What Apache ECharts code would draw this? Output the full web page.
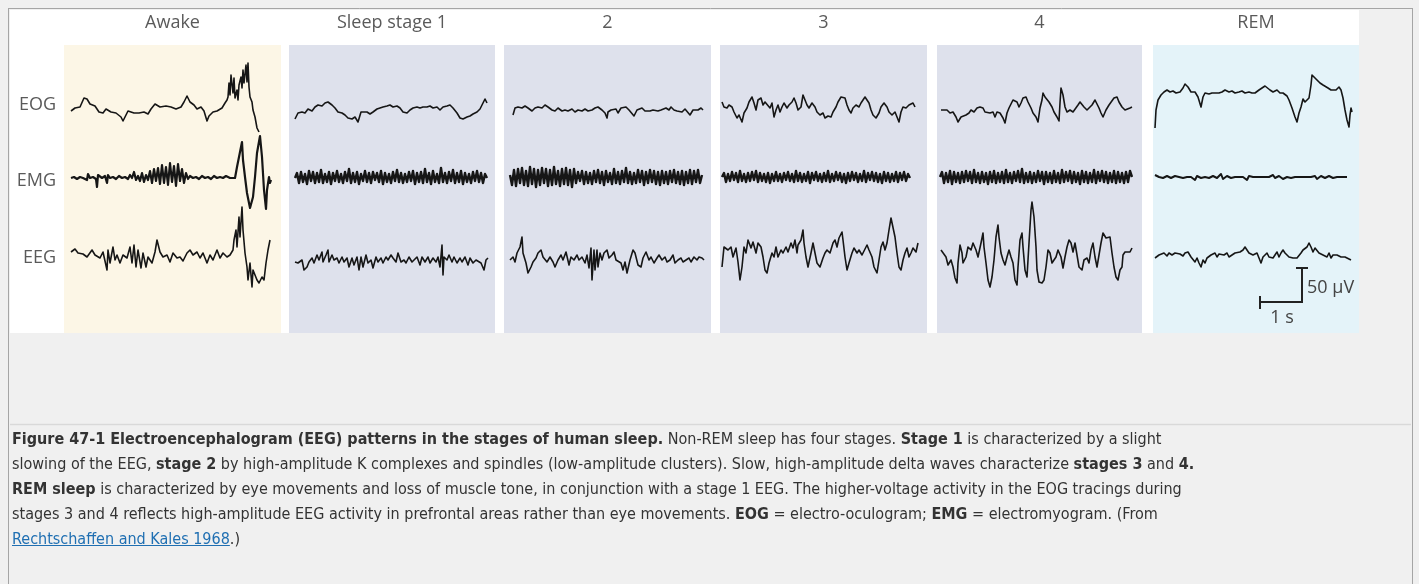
<!DOCTYPE html>
<html><head><meta charset="utf-8">
<script src="https://cdn.jsdelivr.net/npm/echarts@6/dist/echarts.min.js"></script>
<style>
html,body{margin:0;padding:0;background:#f0f0f0;width:1419px;height:584px;overflow:hidden;}
#chart{position:absolute;left:0;top:0;width:1419px;height:584px;}
#cap{position:absolute;left:12px;top:426px;font-family:"DejaVu Sans Condensed","DejaVu Sans",sans-serif;font-size:16px;line-height:25px;color:#333;white-space:nowrap;}
#cap a{color:#1f6fb2;text-decoration:underline;}
</style></head>
<body>
<div id="chart"></div>
<div id="cap">
<b>Figure 47-1 Electroencephalogram (EEG) patterns in the stages of human sleep.</b> Non-REM sleep has four stages. <b>Stage 1</b> is characterized by a slight<br>
slowing of the EEG, <b>stage 2</b> by high-amplitude K complexes and spindles (low-amplitude clusters). Slow, high-amplitude delta waves characterize <b>stages 3</b> and <b>4.</b><br>
<b>REM sleep</b> is characterized by eye movements and loss of muscle tone, in conjunction with a stage 1 EEG. The higher-voltage activity in the EOG tracings during<br>
stages 3 and 4 reflects high-amplitude EEG activity in prefrontal areas rather than eye movements. <b>EOG</b> = electro-oculogram; <b>EMG</b> = electromyogram. (From<br>
<a>Rechtschaffen and Kales 1968</a>.)
</div>
<script>
// ---------- labels ----------
const stageLabels = ['Awake', 'Sleep stage 1', '2', '3', '4', 'REM'];
const channelLabels = ['EOG', 'EMG', 'EEG'];
const scaleLabels = ['50 \u00b5V', '1 s'];

// ---------- traces: [time sample, amplitude] (amplitude positive = up) ----------
const eogAwake = [[1,-1],[5,2],[10,3],[14,12],[17,11],[20,6],[25,4],[29,-2],[33,-3],[36,1],[41,-2],[46,-3],[51,-7],[53,-11],[56,-5],[58,-1],[64,-3],[69,-3],[74,-2],[78,-4],[81,1],[85,6],[90,3],[96,4],[101,3],[106,1],[111,3],[114,8],[117,14],[120,8],[124,5],[127,1],[131,3],[134,-1],[137,-11],[139,-6],[143,-2],[147,-1],[152,2],[155,7],[157,10],[158,13],[159,27],[160,15],[161,35],[163,17],[164,32],[165,12],[167,20],[168,10],[169,25],[171,33],[172,22],[173,40],[174,27],[176,45],[177,28],[178,47],[179,23],[180,13],[182,8],[183,0],[185,-7],[187,-18],[189,-22]];
const emgAwake = [[1,-1],[4,0],[7,-2],[10,0],[13,-1],[15,1],[17,-3],[18,3],[20,-1],[23,0],[26,-2],[27,-10],[28,2],[29,0],[32,-1],[35,1],[37,-6],[38,2],[40,-1],[43,0],[46,-2],[49,1],[52,-1],[55,0],[58,-2],[60,2],[62,-1],[64,5],[66,-3],[68,1],[70,-4],[72,4],[74,-5],[76,2],[78,-3],[80,6],[82,-6],[84,8],[86,-4],[88,9],[90,-7],[92,12],[94,-6],[96,10],[98,-8],[100,14],[102,-5],[104,11],[106,-9],[108,13],[110,-4],[112,8],[114,-6],[116,4],[118,-2],[120,1],[123,-1],[126,0],[129,-2],[132,1],[135,-1],[138,0],[141,-2],[144,1],[147,-1],[150,0],[153,-1],[156,1],[158,2],[160,-1],[162,1],[165,-1],[167,10],[169,20],[172,35],[173,17],[175,0],[177,-16],[180,-31],[183,-20],[185,0],[187,24],[190,41],[192,20],[194,-13],[196,-32],[197,-13],[199,0],[200,-6],[201,-3]];
const eegAwake = [[1,6],[5,9],[8,5],[13,4],[17,1],[22,8],[25,3],[30,0],[33,6],[37,-12],[38,8],[40,-5],[43,11],[45,-2],[47,3],[50,-5],[53,3],[57,0],[60,11],[62,-5],[64,13],[66,-9],[68,8],[71,-10],[73,5],[76,-9],[78,1],[82,-5],[85,6],[87,18],[90,6],[93,1],[97,3],[100,-4],[103,5],[107,0],[110,1],[113,-3],[117,5],[120,8],[123,3],[127,6],[130,0],[133,5],[137,-5],[140,3],[143,-2],[147,8],[150,0],[153,5],[157,1],[160,3],[163,8],[164,18],[166,28],[167,11],[169,41],[170,21],[172,51],[173,28],[175,5],[177,-9],[178,-22],[180,-5],[182,-29],[183,-12],[187,-22],[189,-25],[192,-19],[194,-22],[196,-5],[198,8],[200,18]];

const eogS1 = [[0,-9],[3,-3],[7,-2],[10,-3],[13,1],[17,-1],[20,3],[23,5],[27,4],[30,7],[33,8],[37,5],[40,2],[43,-2],[47,-3],[50,-5],[53,-8],[57,-9],[60,-7],[63,-12],[66,-2],[68,-3],[72,-2],[75,-4],[78,-2],[82,1],[85,2],[88,3],[92,4],[95,5],[98,3],[102,4],[105,2],[108,-2],[112,-3],[115,0],[118,2],[122,3],[125,2],[128,3],[132,3],[135,4],[138,2],[142,3],[145,0],[148,3],[152,4],[155,5],[158,2],[162,-3],[165,-8],[168,-9],[172,-7],[175,-6],[178,-4],[182,-2],[185,1],[188,7],[190,11],[192,7]];
const emgS1 = [-1,4,-6,5,-5,3,-7,6,-4,5,-6,4,-5,7,-6,3,-5,5,-7,4,-4,6,-5,3,-6,5,-4,8,-6,4,-5,5,-7,3,-4,6,-5,4,-6,5,-3,4,-5,6,-7,4,-5,3,-6,5,-4,7,-5,4,-6,3,-5,5,-4,6,-7,4,-5,5,-6,8,-5,4,-7,6,-5,3,-6,9,-5,4,-6,5,-4,7,-6,4,-5,6,-7,4,-5,3,-6,5,-4,6,-5,4,-6,3,-1];
const eegS1 = [[0,-4],[3,-5],[7,-2],[9,-12],[12,-9],[14,-4],[17,0],[19,-5],[22,3],[24,-2],[27,6],[28,-4],[31,3],[33,8],[34,-4],[37,3],[39,-2],[42,0],[44,-5],[47,1],[49,-4],[52,0],[54,-9],[57,0],[59,-7],[62,1],[64,-12],[66,1],[68,-9],[71,3],[73,-5],[76,-2],[78,-10],[81,1],[83,-4],[86,0],[88,-5],[91,1],[93,-2],[96,3],[98,0],[101,-4],[103,5],[106,-4],[109,-2],[111,-5],[114,1],[117,-4],[119,-2],[122,1],[125,-7],[127,1],[130,-4],[133,1],[135,-5],[138,0],[141,-4],[143,1],[145,-9],[147,13],[148,-17],[149,1],[152,-2],[154,3],[157,-4],[159,1],[162,-5],[165,0],[167,-4],[170,1],[173,-7],[175,0],[178,-5],[181,-2],[183,-4],[186,-5],[189,-12],[191,-2],[193,0]];

const eogS2 = [[3,-5],[5,2],[8,3],[12,2],[15,4],[18,2],[22,-1],[25,2],[28,3],[32,2],[35,5],[38,3],[42,0],[45,-1],[48,2],[52,-1],[55,0],[58,-1],[62,1],[65,-2],[68,0],[72,-1],[75,1],[78,-1],[82,0],[85,2],[88,3],[92,0],[95,-3],[97,-8],[98,-2],[101,0],[103,2],[106,1],[108,-3],[111,2],[113,0],[116,3],[119,0],[121,-2],[124,-6],[127,0],[129,-2],[132,2],[135,-1],[137,1],[140,-1],[143,0],[145,2],[148,-1],[151,0],[153,1],[156,2],[159,0],[161,3],[164,0],[167,-1],[169,-3],[172,-2],[175,1],[177,-1],[180,-5],[183,0],[185,-2],[188,0],[191,2],[193,0]];
const emgS2 = [2,-8,7,-9,8,-6,9,-8,6,-9,10,-7,8,-10,7,-8,9,-6,8,-9,7,-8,10,-7,6,-9,8,-7,9,-8,7,-10,8,-6,5,-4,6,-7,5,-6,4,-7,6,-5,7,-6,5,-8,6,-5,4,-7,8,-6,5,-7,6,-5,9,-6,5,-7,4,-6,7,-5,6,-8,5,-6,7,-5,6,-7,5,-8,6,-6,5,-7,6,-5,7,-6,5,-7,6,-8,5,-6,7,-7,6,-5,7,-6,2];
const eegS2 = [[0,-2],[3,1],[5,-4],[7,5],[10,11],[12,21],[13,5],[16,-5],[18,-15],[21,-9],[23,-4],[26,0],[28,5],[31,8],[33,1],[35,3],[37,-4],[40,1],[43,-4],[45,-9],[48,-2],[51,3],[53,-2],[56,6],[59,-7],[61,1],[64,-2],[67,3],[69,-2],[72,1],[75,-5],[77,3],[79,-10],[81,10],[82,-22],[84,8],[85,-12],[87,8],[88,-9],[90,5],[92,-2],[94,5],[97,8],[99,0],[102,3],[104,6],[106,-2],[108,0],[111,-5],[113,-12],[115,-4],[117,-15],[120,-2],[123,8],[125,5],[128,-7],[131,-9],[133,0],[136,6],[139,-2],[141,1],[144,-5],[147,0],[149,3],[152,-2],[155,1],[157,-4],[160,-2],[163,3],[165,-5],[168,-2],[171,0],[173,-4],[176,-2],[179,0],[181,-4],[184,1],[187,-2],[189,1],[192,0],[194,-2]];

const eogS3 = [[0,8],[2,3],[5,2],[7,5],[10,3],[12,-2],[15,-8],[17,-5],[20,-12],[22,-3],[25,2],[27,8],[30,13],[32,7],[34,0],[36,10],[39,12],[41,5],[43,8],[45,7],[48,2],[50,7],[52,-7],[54,0],[56,5],[58,-2],[60,3],[62,7],[65,2],[67,5],[70,8],[72,12],[74,7],[76,0],[79,3],[81,15],[83,13],[85,5],[87,2],[90,7],[93,3],[95,-2],[98,-5],[101,-3],[103,-8],[106,-6],[109,-7],[111,-2],[114,3],[116,8],[119,13],[121,15],[123,12],[125,5],[127,0],[129,-3],[131,2],[134,5],[137,3],[139,7],[141,10],[143,13],[145,14],[147,7],[149,0],[151,-5],[154,-8],[157,-3],[159,3],[162,7],[165,3],[167,-2],[170,-5],[173,-2],[175,-7],[177,-12],[179,-2],[181,3],[184,2],[187,5],[189,3],[191,7],[193,3]];
const emgS3 = [0,4,-5,3,-4,5,-3,4,-5,6,-4,3,-5,4,-4,5,-3,6,-5,4,-4,3,-5,4,-6,3,-4,5,-4,3,-5,4,-3,5,-4,3,-5,6,-4,4,-5,3,-4,5,-6,4,-3,5,-4,3,-5,4,-4,6,-5,3,-4,5,-3,4,-5,3,-6,4,-4,5,-3,4,-5,3,-4,6,-5,4,-3,5,-4,4,-5,3,-6,5,-4,4,-5,3,-4,5,-5,4,-3,5,-4,3,-1];
const eegS3 = [[0,-9],[2,11],[4,13],[6,8],[9,11],[11,1],[14,10],[16,-4],[18,-22],[20,-9],[22,11],[24,5],[26,18],[29,10],[31,16],[34,5],[36,15],[39,11],[41,1],[43,-12],[45,-15],[47,-5],[50,5],[52,1],[54,11],[56,1],[59,8],[61,5],[64,11],[66,6],[69,15],[71,10],[73,18],[75,5],[76,13],[79,18],[81,28],[82,15],[84,1],[86,-9],[89,5],[91,15],[93,5],[95,-5],[98,-9],[101,0],[103,5],[105,8],[108,5],[111,15],[113,18],[115,11],[117,20],[120,26],[121,18],[123,1],[125,-12],[127,-5],[130,5],[132,10],[135,5],[137,8],[140,3],[142,5],[145,13],[147,8],[150,1],[152,-9],[155,-15],[157,-2],[159,11],[161,16],[163,8],[165,15],[167,28],[169,40],[171,38],[173,21],[175,5],[177,-9],[179,-12],[181,-2],[183,5],[185,10],[187,1],[189,5],[191,10],[194,6],[196,15]];

const eogS4 = [[1,0],[3,-2],[7,0],[10,-3],[13,-2],[16,-7],[18,-12],[21,-7],[23,-8],[26,-5],[29,-3],[31,0],[34,-2],[37,2],[40,3],[43,2],[45,-2],[47,0],[50,-3],[53,-2],[55,-7],[57,-2],[60,-3],[63,-8],[65,-13],[67,-3],[69,2],[71,3],[73,10],[75,12],[77,8],[79,3],[81,7],[83,12],[86,13],[88,8],[91,2],[93,-3],[96,-7],[98,-12],[100,2],[102,10],[103,17],[105,13],[107,12],[109,8],[112,3],[114,-2],[117,-7],[119,-11],[120,7],[121,22],[123,15],[125,3],[127,-2],[130,0],[133,-2],[135,0],[138,5],[140,8],[142,7],[144,3],[147,0],[149,2],[152,5],[155,10],[157,8],[159,2],[161,-3],[163,-7],[166,0],[169,5],[171,7],[174,12],[177,13],[179,8],[182,3],[185,0],[187,-2],[190,2],[192,3]];
const emgS4 = [0,5,-6,4,-5,6,-7,5,-5,4,-6,5,-5,6,-4,5,-6,7,-5,4,-6,5,-5,4,-7,5,-5,6,-6,4,-5,5,-6,7,-5,4,-6,5,-4,6,-5,8,-6,4,-5,5,-6,4,-5,6,-4,5,-7,5,-5,4,-6,6,-5,4,-6,7,-5,5,-4,6,-6,5,-5,4,-7,6,-5,5,-6,4,-5,7,-6,5,-4,6,-5,5,-6,4,-5,6,-6,5,-5,4,-6,5,-5,6,0];
const eegS4 = [[1,8],[3,6],[6,1],[8,-7],[11,-2],[13,-9],[15,-20],[17,-25],[18,-5],[20,13],[22,5],[23,-5],[26,1],[28,11],[31,8],[33,15],[36,8],[38,1],[41,15],[43,25],[44,11],[46,-5],[48,-22],[50,-29],[52,-19],[54,-2],[56,21],[58,33],[59,21],[61,5],[63,-2],[65,-7],[67,1],[69,8],[71,1],[73,-5],[75,-22],[77,-27],[78,-9],[80,18],[82,25],[83,11],[85,-12],[87,-19],[89,15],[91,48],[92,56],[94,41],[96,11],[97,-12],[99,-24],[102,-25],[104,-22],[106,-9],[108,8],[110,5],[112,-5],[114,-7],[116,1],[118,8],[121,1],[123,-10],[125,1],[127,11],[129,18],[131,15],[133,6],[135,15],[137,3],[139,-9],[142,-12],[144,-2],[147,0],[149,-5],[151,8],[153,15],[155,1],[157,-9],[159,3],[161,15],[163,25],[166,20],[168,18],[170,21],[172,5],[174,-9],[176,-19],[178,-22],[180,-12],[182,-9],[183,3],[185,6],[187,8],[190,6],[192,10]];

const eogRem = [[0,-18],[1,0],[3,10],[6,15],[9,18],[12,20],[15,18],[18,19],[21,17],[25,18],[28,22],[30,26],[33,23],[36,18],[38,17],[40,18],[43,13],[46,3],[48,13],[50,17],[54,16],[57,17],[60,17],[64,17],[67,18],[70,20],[74,18],[77,19],[80,17],[84,18],[87,19],[90,17],[94,18],[97,17],[100,17],[104,20],[107,22],[110,24],[112,22],[115,20],[118,18],[122,20],[125,17],[128,17],[132,14],[134,10],[137,2],[140,-7],[142,-12],[144,-3],[146,3],[148,11],[150,8],[152,10],[154,12],[156,25],[157,35],[160,32],[162,30],[165,27],[168,25],[170,23],[173,22],[176,20],[178,22],[181,20],[184,23],[186,20],[188,12],[190,0],[192,-10],[194,-17],[195,-5],[196,2],[197,-2]];
const emgRem = [2,1,0,1,-1,0,1,0,-1,0,1,-1,0,0,-1,1,0,-1,0,0,-3,1,0,-1,0,0,1,-1,0,1,0,-1,0,3,-2,0,1,0,-1,0,0,1,0,-1,0,1,-3,1,0,0,-1,0,1,0,-1,0,1,0,0,2,-1,0,1,0,-2,0,0,1,-1,0,0,1,0,-2,0,1,0,-1,0,0,1,-2,0,1,0,-1,0,1,0,-1,0,0,1,0,-1,0,0];
const eegRem = [[0,0],[4,3],[6,1],[9,5],[12,2],[14,5],[17,3],[20,5],[22,3],[25,4],[28,2],[30,5],[33,6],[36,1],[38,0],[40,-4],[42,0],[44,-5],[46,-9],[48,-2],[50,-5],[52,0],[54,-2],[56,3],[58,1],[60,5],[62,1],[64,4],[66,2],[69,3],[72,5],[74,1],[77,3],[80,5],[82,3],[85,6],[88,8],[90,11],[92,8],[94,5],[96,6],[98,3],[100,1],[102,5],[104,0],[106,-5],[108,1],[110,3],[112,5],[114,1],[116,3],[118,0],[120,3],[122,6],[124,1],[126,5],[128,8],[130,5],[132,6],[134,1],[136,3],[138,0],[140,-2],[142,0],[144,1],[146,5],[148,8],[150,6],[152,11],[154,15],[156,11],[158,6],[160,10],[162,8],[164,5],[166,6],[168,3],[170,5],[172,1],[174,5],[176,0],[178,3],[180,1],[182,3],[184,5],[186,1],[188,3],[190,1],[192,0],[194,-1],[196,-2]];

// ---------- layout ----------
const traceData = [
  [eogAwake, emgAwake, eegAwake],
  [eogS1, emgS1, eegS1],
  [eogS2, emgS2, eegS2],
  [eogS3, emgS3, eegS3],
  [eogS4, emgS4, eegS4],
  [eogRem, emgRem, eegRem]
];
const panelBox = [[64,281,'#fcf6e6'],[289,495,'#dee1ec'],[504,711,'#dee1ec'],[720,927,'#dee1ec'],[937,1142,'#dee1ec'],[1153,1359,'#e4f3f9']];
const traceLeft = [70,295,510,722,940,1155];
const rowBase = [110,177,258];
const HALF = 60, WIDTH = 210, EMG_STEP = 2;
const LABEL_FONT = '18px "Open Sans", "Noto Sans", sans-serif';

const grids = [], xAxes = [], yAxes = [], series = [];
traceData.forEach((rows, p) => {
  rows.forEach((arr, r) => {
    const idx = grids.length;
    grids.push({left: traceLeft[p], top: rowBase[r] - HALF, width: WIDTH, height: 2*HALF, show:false});
    xAxes.push({type:'value', gridIndex: idx, min:0, max:WIDTH, show:false});
    yAxes.push({type:'value', gridIndex: idx, min:-HALF, max:HALF, show:false});
    const data = typeof arr[0] === 'number' ? arr.map((v,i)=>[i*EMG_STEP, v]) : arr;
    const isEmg = r === 1;
    series.push({
      type:'line', xAxisIndex: idx, yAxisIndex: idx, data: data,
      symbol:'none', silent:true, animation:false, clip:false,
      lineStyle:{color: '#161616', width: isEmg ? (p===0 ? 2.2 : (p===5 ? 2 : 2.4)) : 1.6, join:'round'},
      z: 5
    });
  });
});

const graphics = [];
// page frame
graphics.push({type:'rect', shape:{x:10,y:10,width:1349,height:323}, style:{fill:'#ffffff'}, z:0});
graphics.push({type:'line', shape:{x1:8,y1:8.5,x2:1413,y2:8.5}, style:{stroke:'#a5a5a5',lineWidth:1}, z:1});
graphics.push({type:'line', shape:{x1:8.5,y1:8,x2:8.5,y2:584}, style:{stroke:'#a5a5a5',lineWidth:1}, z:1});
graphics.push({type:'line', shape:{x1:1412.5,y1:8,x2:1412.5,y2:584}, style:{stroke:'#a5a5a5',lineWidth:1}, z:1});
graphics.push({type:'line', shape:{x1:10,y1:424.5,x2:1411,y2:424.5}, style:{stroke:'#d9d9d9',lineWidth:1.5}, z:1});
// panels
panelBox.forEach(b => graphics.push({type:'rect', shape:{x:b[0], y:45, width:b[1]-b[0], height:288}, style:{fill:b[2]}, z:1}));
// stage headers
stageLabels.forEach((t,i) => graphics.push({type:'text', x:(panelBox[i][0]+panelBox[i][1])/2, y:23, z:3,
  style:{text:t, fill:'#5a5a5a', font:LABEL_FONT, textAlign:'center', textVerticalAlign:'middle'}}));
// channel labels
channelLabels.forEach((t,i) => graphics.push({type:'text', x:56, y:[105,181,258][i], z:3,
  style:{text:t, fill:'#5a5a5a', font:LABEL_FONT, textAlign:'right', textVerticalAlign:'middle'}}));
// scale bar
graphics.push({type:'polyline', shape:{points:[[1260,302],[1302,302],[1302,268]]}, style:{stroke:'#222',lineWidth:2,fill:null}, z:4});
graphics.push({type:'line', shape:{x1:1260,y1:296,x2:1260,y2:309}, style:{stroke:'#222',lineWidth:2}, z:4});
graphics.push({type:'line', shape:{x1:1296,y1:268,x2:1308,y2:268}, style:{stroke:'#222',lineWidth:2}, z:4});
graphics.push({type:'text', x:1307, y:288, z:4, style:{text:scaleLabels[0], fill:'#444', font:LABEL_FONT, textAlign:'left', textVerticalAlign:'middle'}});
graphics.push({type:'text', x:1282, y:318, z:4, style:{text:scaleLabels[1], fill:'#444', font:LABEL_FONT, textAlign:'center', textVerticalAlign:'middle'}});

const chart = echarts.init(document.getElementById('chart'), null, {renderer:'canvas'});
chart.setOption({
  backgroundColor:'transparent',
  animation:false,
  grid: grids, xAxis: xAxes, yAxis: yAxes, series: series,
  graphic: {elements: graphics}
});
</script>
</body></html>
